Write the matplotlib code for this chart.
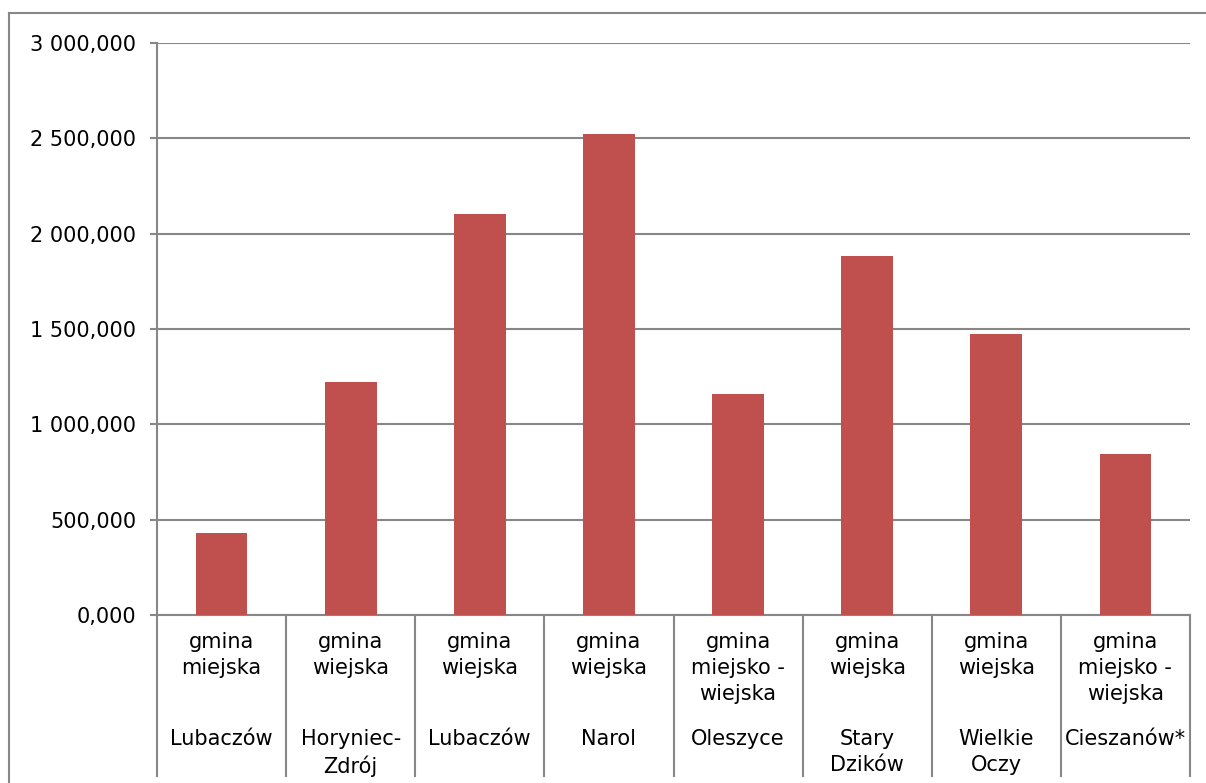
import matplotlib
matplotlib.use("Agg")
import matplotlib.pyplot as plt
from matplotlib.ticker import FuncFormatter, MultipleLocator
import matplotlib.transforms as mtransforms

types = ["gmina\nmiejska", "gmina\nwiejska", "gmina\nwiejska", "gmina\nwiejska",
         "gmina\nmiejsko -\nwiejska", "gmina\nwiejska", "gmina\nwiejska",
         "gmina\nmiejsko -\nwiejska"]
names = ["Lubaczów", "Horyniec-\nZdrój", "Lubaczów", "Narol", "Oleszyce",
         "Stary\nDzików", "Wielkie\nOczy", "Cieszanów*"]
values = [428.5, 1223.6, 2104.7, 2521.0, 1160.7, 1884.5, 1472.0, 844.4]

bar_color = "#C0504D"
grid_color = "#878787"
fs = 15

fig = plt.figure(figsize=(12.06, 7.83), dpi=100)
ax = fig.add_axes([157/1206, 1-615/783, (1190-157)/1206, (615-43)/783])

x = list(range(len(values)))
ax.bar(x, values, width=0.40, color=bar_color, zorder=3)

ax.set_xlim(-0.5, len(values) - 0.5)
ax.set_ylim(0, 3000)
ax.yaxis.set_major_locator(MultipleLocator(500))

def fmt(v, pos):
    s = f"{v:,.3f}"
    s = s.replace(",", " ").replace(".", ",")
    return s

ax.yaxis.set_major_formatter(FuncFormatter(fmt))
ax.grid(axis="y", color=grid_color, linewidth=1.5, zorder=0)
ax.set_xticks([])
for sp in ["top", "right"]:
    ax.spines[sp].set_visible(False)
for sp in ["left", "bottom"]:
    ax.spines[sp].set_color(grid_color)
    ax.spines[sp].set_linewidth(1.5)
ax.tick_params(axis="y", length=5, width=1.5, color=grid_color, pad=10,
               labelsize=fs, labelcolor="black")

trans = mtransforms.blended_transform_factory(ax.transData, ax.transAxes)
sep_bottom = -(776 - 615) / 572
for b in range(len(values) + 1):
    ax.plot([b - 0.5, b - 0.5], [0, sep_bottom], transform=trans,
            color=grid_color, linewidth=1.5, clip_on=False)

type_top = -(632 - 615) / 572
name_top = -(729 - 615) / 572
for i in x:
    ax.text(i, type_top, types[i], transform=trans, ha="center", va="top",
            fontsize=fs, linespacing=1.37)
    ax.text(i, name_top, names[i], transform=trans, ha="center", va="top",
            fontsize=fs, linespacing=1.37)

# outer chart border (top and left)
fig.add_artist(plt.Line2D([9/1206, 9/1206], [0, 1-13/783], transform=fig.transFigure,
                          color=grid_color, linewidth=1.5))
fig.add_artist(plt.Line2D([9/1206, 1], [1-13/783, 1-13/783], transform=fig.transFigure,
                          color=grid_color, linewidth=1.5))

fig.savefig("out.png", dpi=100)
